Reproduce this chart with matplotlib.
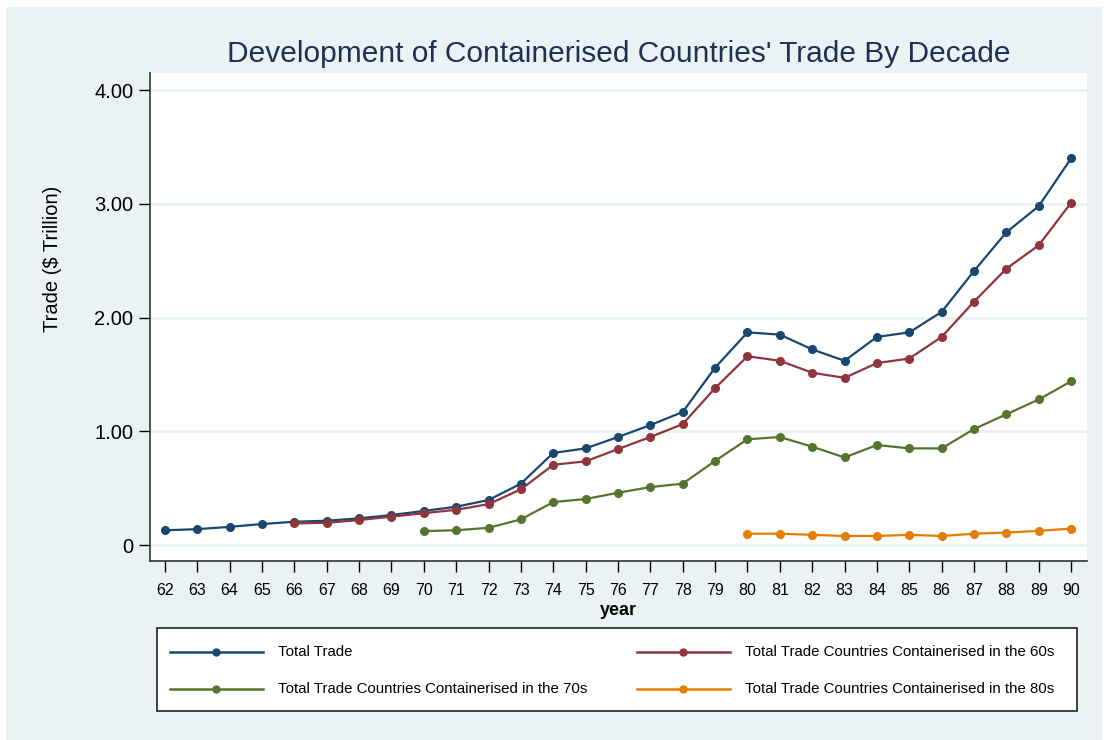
import matplotlib
matplotlib.use("Agg")
import matplotlib.pyplot as plt
from matplotlib.patches import Rectangle
from matplotlib.lines import Line2D

# data ($ trillion)
years_all = list(range(62, 91))
total_trade = [0.13, 0.14, 0.16, 0.185, 0.205, 0.214, 0.235, 0.264, 0.30, 0.337,
               0.396, 0.54, 0.81, 0.85, 0.95, 1.055, 1.17, 1.56, 1.87, 1.85,
               1.72, 1.62, 1.83, 1.87, 2.05, 2.41, 2.75, 2.98, 3.40]

years_60s = list(range(66, 91))
trade_60s = [0.19, 0.196, 0.22, 0.25, 0.28, 0.31, 0.36, 0.49, 0.706, 0.736,
             0.844, 0.95, 1.064, 1.38, 1.66, 1.62, 1.515, 1.47, 1.60, 1.64,
             1.83, 2.14, 2.43, 2.636, 3.01]

years_70s = list(range(70, 91))
trade_70s = [0.123, 0.13, 0.152, 0.226, 0.378, 0.405, 0.46, 0.51, 0.54, 0.74,
             0.93, 0.95, 0.865, 0.77, 0.88, 0.85, 0.85, 1.02, 1.15, 1.28, 1.44]

years_80s = list(range(80, 91))
trade_80s = [0.10, 0.10, 0.09, 0.08, 0.08, 0.09, 0.08, 0.10, 0.11, 0.125, 0.145]

labels = ['Total Trade',
          'Total Trade Countries Containerised in the 60s',
          'Total Trade Countries Containerised in the 70s',
          'Total Trade Countries Containerised in the 80s']
colors = ['#1A476F', '#90353B', '#55752F', '#E37E00']

ytick_vals = [0, 1, 2, 3, 4]
ytick_labels = ['0', '1.00', '2.00', '3.00', '4.00']

bg = '#EAF2F3'
plt.rcParams['font.family'] = ['Liberation Sans', 'DejaVu Sans']

fig = plt.figure(figsize=(11.06, 7.40), dpi=100, facecolor='white')
# light background panel
fig.patches.append(Rectangle((6/1106, 0), 1096/1106, 733/740, transform=fig.transFigure,
                             facecolor=bg, edgecolor='none', zorder=-10))

ax = fig.add_axes([150/1106, 1 - 561/740, 937/1106, 488/740])
ax.set_facecolor('white')

series = [(years_all, total_trade), (years_60s, trade_60s),
          (years_70s, trade_70s), (years_80s, trade_80s)]
for (x, y), c, lab in zip(series, colors, labels):
    ax.plot(x, y, color=c, lw=1.6, marker='o', ms=5.5, label=lab, zorder=3)

ax.set_xlim(61.54, 90.49)
ax.set_ylim(-0.14, 4.15)
ax.set_xticks(years_all)
ax.set_xticklabels([str(v) for v in years_all])
ax.set_yticks(ytick_vals)
ax.set_yticklabels(ytick_labels)
ax.yaxis.grid(True, color=bg, lw=2)
ax.set_axisbelow(True)

for s in ['top', 'right']:
    ax.spines[s].set_visible(False)
for s in ['left', 'bottom']:
    ax.spines[s].set_color('#333333')
    ax.spines[s].set_linewidth(1.2)

ax.tick_params(axis='y', length=8, width=1, labelsize=14.5, pad=4)
ax.tick_params(axis='x', length=8, width=1, labelsize=11.5, pad=8)

ax.set_xlabel('year', fontsize=13, fontweight='bold')
ax.xaxis.set_label_coords(0.5, -0.085)
ax.set_ylabel('Trade ($ Trillion)', fontsize=14.5)
ax.yaxis.set_label_coords(-0.094, 0.62)

fig.text(619/1106, 1 - 62/740, "Development of Containerised Countries' Trade By Decade",
         ha='center', va='baseline', fontsize=21.5, color='#1F2F55')

# legend box drawn in figure pixels
fig.patches.append(Rectangle((157/1106, 1 - 711/740), 920/1106, 83/740,
                             transform=fig.transFigure, facecolor='white',
                             edgecolor='#222222', lw=1.2, zorder=5))
pos = [(170, 652), (637, 652), (170, 689), (637, 689)]
for (px, py), c, lab in zip(pos, colors, labels):
    fy = 1 - py/740
    fig.add_artist(Line2D([px/1106, (px + 93)/1106], [fy, fy], color=c, lw=1.8,
                          transform=fig.transFigure, zorder=6))
    fig.add_artist(Line2D([(px + 46)/1106], [fy], color=c, marker='o', ms=5,
                          transform=fig.transFigure, zorder=7))
    fig.text((px + 108)/1106, fy, lab, ha='left', va='center', fontsize=10.8,
             zorder=7)

fig.savefig('out.png', dpi=100, facecolor=fig.get_facecolor())
